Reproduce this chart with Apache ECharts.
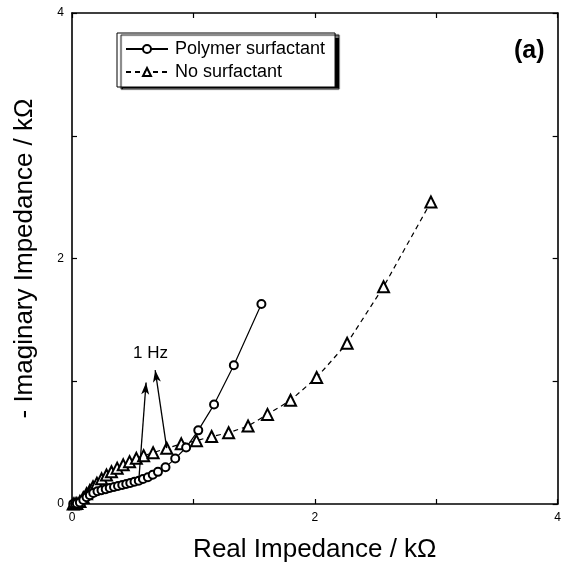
<!DOCTYPE html>
<html><head><meta charset="utf-8">
<script src="https://cdn.jsdelivr.net/npm/echarts@6/dist/echarts.min.js"></script>
<style>html,body{margin:0;padding:0;background:#fff}#c{width:564px;height:575px}</style>
</head><body><div id="c"></div>
<script>
// Polymer surfactant (circles)
const polyRe = [0.01,0.025,0.04,0.065,0.093,0.12,0.147,0.175,0.21,0.243,0.278,0.311,0.346,0.379,0.414,0.447,0.48,0.515,0.55,0.585,0.625,0.665,0.708,0.77,0.85,0.94,1.04,1.17,1.333,1.56];
const polyIm = [0.001,0.002,0.004,0.012,0.033,0.055,0.072,0.09,0.104,0.112,0.12,0.13,0.138,0.146,0.155,0.163,0.172,0.182,0.19,0.203,0.218,0.239,0.262,0.30,0.37,0.46,0.60,0.81,1.13,1.63];
// No surfactant (triangles)
const noRe = [0.01,0.025,0.04,0.065,0.093,0.12,0.147,0.173,0.205,0.244,0.284,0.325,0.372,0.422,0.474,0.53,0.59,0.668,0.78,0.90,1.025,1.15,1.29,1.45,1.61,1.80,2.015,2.266,2.566,2.956];
const noIm = [0.001,0.002,0.005,0.02,0.052,0.083,0.111,0.14,0.17,0.205,0.236,0.263,0.292,0.319,0.345,0.372,0.394,0.418,0.454,0.49,0.516,0.55,0.58,0.635,0.73,0.845,1.03,1.31,1.77,2.46];
// Tick labels shown
const tickLabels = [0, 2, 4];
// 1 Hz annotation arrows (data coords)
const arrowFrom = [[0.55, 0.19], [0.78, 0.455]];
const arrowTo = [[0.61, 0.99], [0.685, 1.09]];
const noteText = '1 Hz';
const notePos = [0.647, 1.23];

const zip = (a, b) => a.map((v, i) => [v, b[i]]);
const FONT = '"Liberation Sans", Arial, sans-serif';
const frameLine = { show: true, onZero: false, lineStyle: { color: '#000', width: 1.6 } };
const tick = { show: true, inside: true, length: 5, lineStyle: { color: '#000', width: 1.2 } };
const lab = {
  show: true, color: '#000', fontSize: 12, fontFamily: FONT,
  formatter: v => tickLabels.includes(v) ? String(v) : ''
};

const chart = echarts.init(document.getElementById('c'), null, { renderer: 'canvas' });
chart.setOption({
  animation: false,
  backgroundColor: '#fff',
  grid: { left: 72, right: 4, top: 13, bottom: 71, containLabel: false },
  title: {
    text: '(a)', left: 509, top: 34,
    textStyle: { fontSize: 25, fontWeight: 'bold', fontFamily: FONT, color: '#000' }
  },
  legend: {
    orient: 'vertical', left: 117, top: 33,
    itemWidth: 42, itemHeight: 10, itemGap: 5,
    padding: [7, 10, 6, 8],
    borderColor: '#000', borderWidth: 1,
    backgroundColor: '#fff',
    shadowColor: '#000', shadowBlur: 1, shadowOffsetX: 4, shadowOffsetY: 2,
    textStyle: { fontSize: 18, fontFamily: FONT, color: '#000', padding: [0, 0, 0, 2] },
    data: ['Polymer surfactant', 'No surfactant']
  },
  xAxis: [{
    type: 'value', min: 0, max: 4, interval: 1, position: 'bottom',
    axisLine: frameLine, axisTick: tick, axisLabel: lab, splitLine: { show: false },
    name: 'Real Impedance / kΩ', nameLocation: 'middle', nameGap: 33,
    nameTextStyle: { fontSize: 26, fontFamily: FONT, color: '#000' }
  }, {
    type: 'value', min: 0, max: 4, interval: 1, position: 'top',
    axisLine: frameLine, axisTick: tick, axisLabel: { show: false }, splitLine: { show: false }
  }],
  yAxis: [{
    type: 'value', min: 0, max: 4, interval: 1, position: 'left',
    axisLine: frameLine, axisTick: tick, axisLabel: lab, splitLine: { show: false },
    name: '- Imaginary Impedance / kΩ', nameLocation: 'middle', nameGap: 34,
    nameTextStyle: { fontSize: 26, fontFamily: FONT, color: '#000' }
  }, {
    type: 'value', min: 0, max: 4, interval: 1, position: 'right',
    axisLine: frameLine, axisTick: tick, axisLabel: { show: false }, splitLine: { show: false }
  }],
  series: [{
    name: 'Polymer surfactant', type: 'line',
    data: zip(polyRe, polyIm),
    symbol: 'emptyCircle', symbolSize: 8,
    lineStyle: { color: '#000', width: 1.2, type: 'solid' },
    itemStyle: { color: '#000', borderColor: '#000', borderWidth: 1.1 },
    z: 3,
    markLine: {
      silent: true, symbol: ['none', 'arrow'], symbolSize: [8, 12],
      lineStyle: { color: '#000', width: 1.3, type: 'solid' },
      label: { show: false },
      data: arrowFrom.map((p, i) => [
        { coord: p, symbol: 'none' },
        { coord: arrowTo[i], symbol: 'arrow', symbolSize: [6, 12] }
      ])
    },
    markPoint: {
      silent: true, symbol: 'rect', symbolSize: 1,
      itemStyle: { color: 'rgba(0,0,0,0)' },
      label: { show: true, position: 'inside', color: '#000', fontSize: 17, fontFamily: FONT, formatter: noteText },
      data: [{ coord: notePos }]
    }
  }, {
    name: 'No surfactant', type: 'line',
    data: zip(noRe, noIm),
    symbol: 'emptyTriangle', symbolSize: 11,
    lineStyle: { color: '#000', width: 1.2, type: [5, 4] },
    itemStyle: { color: '#000', borderColor: '#000', borderWidth: 1.1 },
    z: 2
  }]
});
</script>
</body></html>
